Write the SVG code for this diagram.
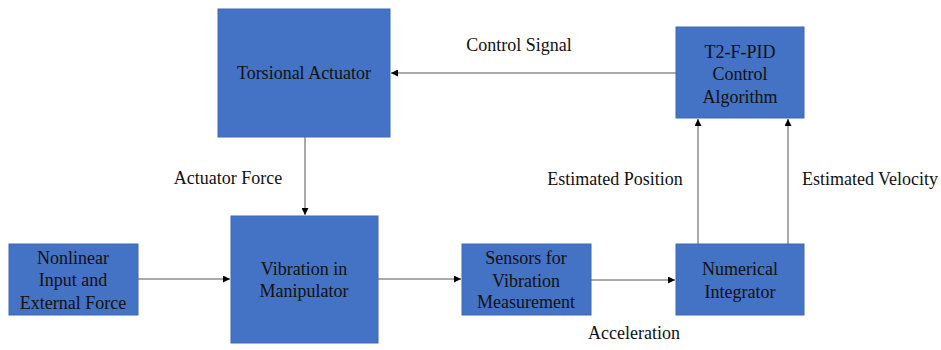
<svg xmlns="http://www.w3.org/2000/svg" width="941" height="350" viewBox="0 0 941 350" font-family="Liberation Serif, serif">
<defs>
<marker id="ah" viewBox="0 0 10 10" refX="10" refY="5" markerWidth="7" markerHeight="7" markerUnits="userSpaceOnUse" orient="auto">
<path d="M0,0 L10,5 L0,10 z" fill="#000"/>
</marker>
</defs>
<style>
.box{fill:#4472C4;stroke:#3F68B4;stroke-width:1}
.t{font-size:18px;fill:#111;text-anchor:middle}
.c{stroke:#555;stroke-width:1;fill:none;marker-end:url(#ah)}
</style>
<rect width="941" height="350" fill="#fff"/>
<g id="connectors">
<line class="c" x1="676" y1="73" x2="391" y2="73"/>
<line class="c" x1="305" y1="137" x2="305" y2="215"/>
<line class="c" x1="138" y1="279" x2="230" y2="279"/>
<line class="c" x1="378" y1="279" x2="461" y2="279"/>
<line class="c" x1="591" y1="280" x2="675" y2="280"/>
<line class="c" x1="698" y1="244" x2="698" y2="119"/>
<line class="c" x1="788" y1="244" x2="788" y2="119"/>
</g>
<g id="labels" font-family="Liberation Serif, serif">
<text class="t" x="519" y="51">Control Signal</text>
<text class="t" x="228" y="184">Actuator Force</text>
<text class="t" x="615" y="185">Estimated Position</text>
<text class="t" x="870" y="185">Estimated Velocity</text>
<text class="t" x="634" y="339">Acceleration</text>
</g>
<g id="torsional-actuator" font-family="Liberation Serif, serif">
<rect class="box" x="218" y="9" width="172" height="128"/>
<text class="t" x="304" y="79">Torsional Actuator</text>
</g>
<g id="t2-f-pid" font-family="Liberation Serif, serif">
<rect class="box" x="676" y="27" width="128" height="91"/>
<text class="t" x="740" y="58">T2-F-PID</text>
<text class="t" x="740" y="80">Control</text>
<text class="t" x="740" y="103">Algorithm</text>
</g>
<g id="nonlinear-input" font-family="Liberation Serif, serif">
<rect class="box" x="9" y="244" width="129" height="71"/>
<text class="t" x="73" y="264">Nonlinear</text>
<text class="t" x="73" y="286">Input and</text>
<text class="t" x="73" y="309">External Force</text>
</g>
<g id="vibration" font-family="Liberation Serif, serif">
<rect class="box" x="231" y="216" width="147" height="127"/>
<text class="t" x="304" y="275">Vibration in</text>
<text class="t" x="304" y="297">Manipulator</text>
</g>
<g id="sensors" font-family="Liberation Serif, serif">
<rect class="box" x="462" y="244" width="129" height="71"/>
<text class="t" x="526" y="264">Sensors for</text>
<text class="t" x="526" y="287">Vibration</text>
<text class="t" x="526" y="308">Measurement</text>
</g>
<g id="numerical-integrator" font-family="Liberation Serif, serif">
<rect class="box" x="676" y="244" width="128" height="71"/>
<text class="t" x="740" y="275">Numerical</text>
<text class="t" x="740" y="298">Integrator</text>
</g>
</svg>
